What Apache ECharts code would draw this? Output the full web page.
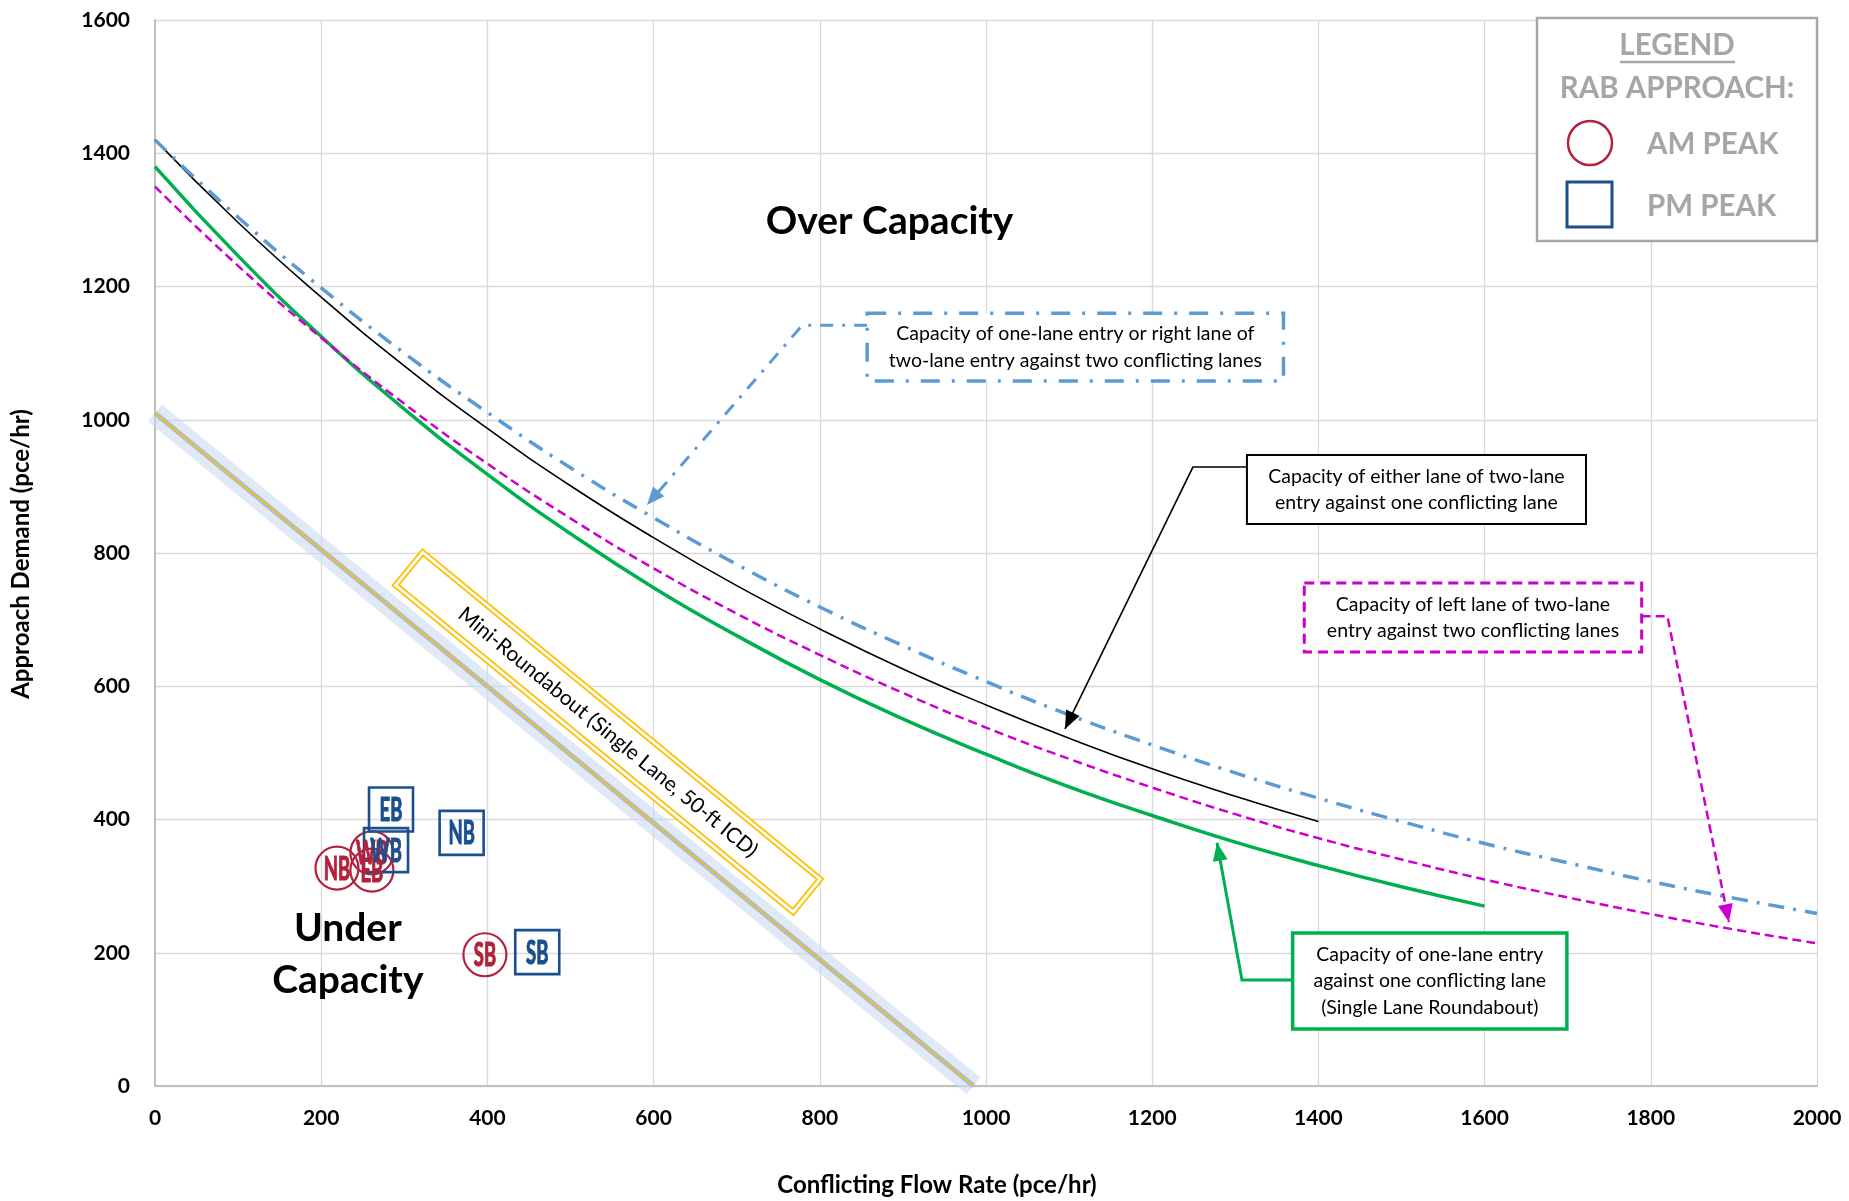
<!DOCTYPE html>
<html><head><meta charset="utf-8">
<script src="https://cdn.jsdelivr.net/npm/echarts/dist/echarts.min.js"></script>
<style>html,body{margin:0;padding:0;background:#fff}#c{width:1849px;height:1201px}</style>
</head><body><div id="c"></div>
<script>
// ---- data ----
const xTicks = [0,100,200,300,400,500,600,700,800,900,1000,1100,1200,1300,1400,1500,1600,1700,1800,1900,2000];
const greenCap   = [1380,1246,1125,1016,918,829,748,676,610,551,498,449,406,366,331,299,270];               // one-lane entry vs one conflicting lane (0..1600)
const blackCap   = [1420,1296,1184,1081,987,901,823,751,686,626,572,522,476,435,397];                       // either lane of two-lane entry vs one conflicting lane (0..1400)
const blueCap    = [1420,1304,1198,1100,1011,928,853,783,719,661,607,557,512,470,432,397,364,335,307,282,259]; // one-lane / right lane vs two conflicting lanes
const magentaCap = [1350,1231,1123,1024,934,852,777,709,647,590,538,491,448,408,372,340,310,283,258,235,214]; // left lane vs two conflicting lanes
const miniX = [0, 985];
const miniY = [1010, 0];
const amLabels = ['NB','EB','WB','SB'];
const amX = [219,261,261,397];
const amY = [327,324,350,197];
const pmLabels = ['EB','WB','NB','SB'];
const pmX = [284,278,369,460];
const pmY = [415,354,380,201];

const AM = '#B4213C', PM = '#1B4F8E';
const pairs = (ys) => ys.map((v,i) => [xTicks[i], v]);
const pts = (lab, xs, ys) => lab.map((n,i) => ({name:n, value:[xs[i], ys[i]]}));
const miniPts = miniX.map((x,i)=>[x, miniY[i]]);

const chart = echarts.init(document.getElementById('c'), null, {renderer:'canvas'});
const axisCommon = {
  type:'value',
  axisLine:{show:true, lineStyle:{color:'#BFBFBF', width:2}},
  axisTick:{show:false},
  splitLine:{show:true, lineStyle:{color:'#D9D9D9', width:1.3}},
  axisLabel:{color:'#000', fontFamily:'Lato', fontWeight:'bold', fontSize:21, formatter:(v)=>String(v)}
};
const lineBase = {type:'line', symbol:'none', smooth:true, silent:true};

// annotation connectors (data coordinates)
const blueConn    = [[857,1142],[779,1142],[592,872]];
const blackConn   = [[1314,929],[1249,929],[1095,536]];
const magentaConn = [[1789,705],[1820,705],[1894,246]];
const greenConn   = [[1369,159],[1308,159],[1278,365]];
const conn = (c, col, w, type) => ({type:'lines', coordinateSystem:'cartesian2d', polyline:true, silent:true,
  symbol:'none', z:6, lineStyle:{color:col, width:w, type:type, opacity:1}, data:[{coords:c}]});

chart.setOption({
  animation:false,
  grid:{left:155, top:20, width:1662, height:1066, containLabel:false, outerBoundsMode:'none'},
  xAxis:Object.assign({}, axisCommon, {min:0, max:2000, interval:200,
     axisLabel:Object.assign({}, axisCommon.axisLabel, {margin:22})}),
  yAxis:Object.assign({}, axisCommon, {min:0, max:1600, interval:200,
     axisLabel:Object.assign({}, axisCommon.axisLabel, {margin:25})}),
  series:[
    Object.assign({}, lineBase, {smooth:false, clip:false, data:miniPts, lineStyle:{color:'rgba(205,218,240,0.6)', width:22, cap:'butt'}, z:1}),
    Object.assign({}, lineBase, {smooth:false, clip:false, data:miniPts, lineStyle:{color:'#A9BDDA', width:5}, z:2}),
    Object.assign({}, lineBase, {smooth:false, clip:false, data:miniPts, lineStyle:{color:'#FFC000', width:1.6}, z:3}),
    Object.assign({}, lineBase, {data:pairs(greenCap), lineStyle:{color:'#00B050', width:3.5}, z:4}),
    Object.assign({}, lineBase, {data:pairs(magentaCap), lineStyle:{color:'#CC00CC', width:2.5, type:[9,5]}, z:4}),
    Object.assign({}, lineBase, {data:pairs(blackCap), lineStyle:{color:'#000000', width:1.6}, z:4}),
    Object.assign({}, lineBase, {data:pairs(blueCap), lineStyle:{color:'#5B9BD5', width:3.5, type:[16,9,3,9]}, z:4}),
    conn(blueConn, '#5B9BD5', 3, [13,9,3,9]),
    conn(blackConn, '#000000', 1.6, 'solid'),
    conn(magentaConn, '#CC00CC', 2.5, [9,5]),
    conn(greenConn, '#00B050', 3, 'solid'),
    {type:'scatter', symbol:'circle', symbolSize:43, z:7, silent:true,
     itemStyle:{color:'rgba(255,255,255,0)', borderColor:AM, borderWidth:2.2, opacity:1},
     label:{show:false}, data:pts(amLabels, amX, amY)},
    {type:'scatter', symbol:'rect', symbolSize:44, z:8, silent:true,
     itemStyle:{color:'rgba(255,255,255,0)', borderColor:PM, borderWidth:2.6, opacity:1},
     label:{show:false}, data:pts(pmLabels, pmX, pmY)}
  ]
});

const P = (x,y) => chart.convertToPixel({gridIndex:0}, [x,y]);
const g = [];
// condensed marker labels, placed at the data points
const markLab = (lab, xs, ys, col) => lab.forEach((n,i) => {
  const p = P(xs[i], ys[i]);
  g.push({type:'text', z:25, x:p[0], y:p[1]+1, scaleX:0.56, scaleY:1,
    style:{text:n, align:'center', verticalAlign:'middle', fill:col, stroke:col, lineWidth:1.2, font:'bold 33px Lato'}});
});
markLab(amLabels, amX, amY, AM);
markLab(pmLabels, pmX, pmY, PM);

// arrowheads at connector tips
[[blueConn,'#5B9BD5'],[blackConn,'#000'],[magentaConn,'#CC00CC'],[greenConn,'#00B050']].forEach(([c,col]) => {
  const a = P(c[c.length-2][0], c[c.length-2][1]), b = P(c[c.length-1][0], c[c.length-1][1]);
  const dx = b[0]-a[0], dy = b[1]-a[1], L = Math.hypot(dx,dy), ux = dx/L, uy = dy/L;
  const len = 18, hw = 7.5;
  const bx = b[0]-ux*len, by = b[1]-uy*len;
  g.push({type:'polygon', z:22, shape:{points:[[b[0],b[1]],[bx-uy*hw, by+ux*hw],[bx+uy*hw, by-ux*hw]]}, style:{fill:col}});
});

const boxes = [
  {a:[857,1160], b:[1358,1058], col:'#5B9BD5', w:3.5, dash:[19,12,3,12],
   lines:['Capacity of one-lane entry or right lane of','two-lane entry against two conflicting lanes']},
  {a:[1314,947], b:[1722,843.5], col:'#000000', w:2, dash:null,
   lines:['Capacity of either lane of two-lane','entry against one conflicting lane']},
  {a:[1383,755], b:[1789,651.4], col:'#CC00CC', w:3, dash:[10,6],
   lines:['Capacity of left lane of two-lane','entry against two conflicting lanes']},
  {a:[1369,229.6], b:[1699,85.6], col:'#00B050', w:3.5, dash:null,
   lines:['Capacity of one-lane entry','against one conflicting lane','(Single Lane Roundabout)']}
];
boxes.forEach(bx => {
  const p1 = P(bx.a[0], bx.a[1]), p2 = P(bx.b[0], bx.b[1]);
  g.push({type:'rect', z:20, shape:{x:p1[0], y:p1[1], width:p2[0]-p1[0], height:p2[1]-p1[1]},
    style:{fill:'#fff', stroke:bx.col, lineWidth:bx.w, lineDash:bx.dash}});
  g.push({type:'text', z:21, x:(p1[0]+p2[0])/2, y:(p1[1]+p2[1])/2,
    style:{text:bx.lines.join('\n'), align:'center', verticalAlign:'middle', fill:'#000',
      font:'19.5px Lato', lineHeight:26.5}});
});
// region texts
const overC = P(884, 1297), under1 = P(232, 237), under2 = P(232, 158);
[[overC,'Over Capacity'],[under1,'Under'],[under2,'Capacity']].forEach(t => {
  g.push({type:'text', z:21, x:t[0][0], y:t[0][1], style:{text:t[1], align:'center', verticalAlign:'middle',
    fill:'#000', font:'bold 39px Lato'}});
});
// mini-roundabout label, aligned with the mini line
const m0 = P(miniX[0], miniY[0]), m1 = P(miniX[1], miniY[1]);
const ang = Math.atan2(m1[1]-m0[1], m1[0]-m0[0]);
const mc = P(545, 531);
g.push({type:'group', z:21, x:mc[0], y:mc[1], rotation:-ang, children:[
  {type:'rect', z:21, shape:{x:-259.5, y:-23.5, width:519, height:47}, style:{fill:'#fff', stroke:'#FFC000', lineWidth:1.8}},
  {type:'rect', z:21, shape:{x:-255, y:-19, width:510, height:38}, style:{fill:'none', stroke:'#FFC000', lineWidth:1.8}},
  {type:'text', z:22, x:0, y:0, style:{text:'Mini-Roundabout (Single Lane, 50-ft ICD)', align:'center', verticalAlign:'middle', fill:'#000', font:'21px Lato'}}
]});
// axis titles
g.push({type:'text', z:21, x:21, y:554, rotation:Math.PI/2, style:{text:'Approach Demand (pce/hr)', align:'center', verticalAlign:'middle', fill:'#000', font:'bold 24px Lato'}});
g.push({type:'text', z:21, x:937, y:1185, style:{text:'Conflicting Flow Rate (pce/hr)', align:'center', verticalAlign:'middle', fill:'#000', font:'bold 24px Lato'}});
// legend
const LG = '#A6A6A6';
g.push({type:'rect', z:30, shape:{x:1537, y:18, width:280, height:223}, style:{fill:'#fff', stroke:LG, lineWidth:2.5}});
g.push({type:'text', z:31, x:1677, y:45, style:{text:'LEGEND', align:'center', verticalAlign:'middle', fill:LG, font:'bold 29.5px Lato'}});
g.push({type:'line', z:31, shape:{x1:1620, y1:62, x2:1735, y2:62}, style:{stroke:LG, lineWidth:2.5}});
g.push({type:'text', z:31, x:1677, y:88, style:{text:'RAB APPROACH:', align:'center', verticalAlign:'middle', fill:LG, font:'bold 29.5px Lato'}});
g.push({type:'circle', z:31, shape:{cx:1590, cy:143, r:22}, style:{fill:'none', stroke:AM, lineWidth:2.5}});
g.push({type:'text', z:31, x:1647, y:144, style:{text:'AM PEAK', align:'left', verticalAlign:'middle', fill:LG, font:'bold 29.5px Lato'}});
g.push({type:'rect', z:31, shape:{x:1567, y:182, width:45, height:45}, style:{fill:'none', stroke:PM, lineWidth:3}});
g.push({type:'text', z:31, x:1647, y:206, style:{text:'PM PEAK', align:'left', verticalAlign:'middle', fill:LG, font:'bold 29.5px Lato'}});

chart.setOption({graphic:g});
</script></body></html>
